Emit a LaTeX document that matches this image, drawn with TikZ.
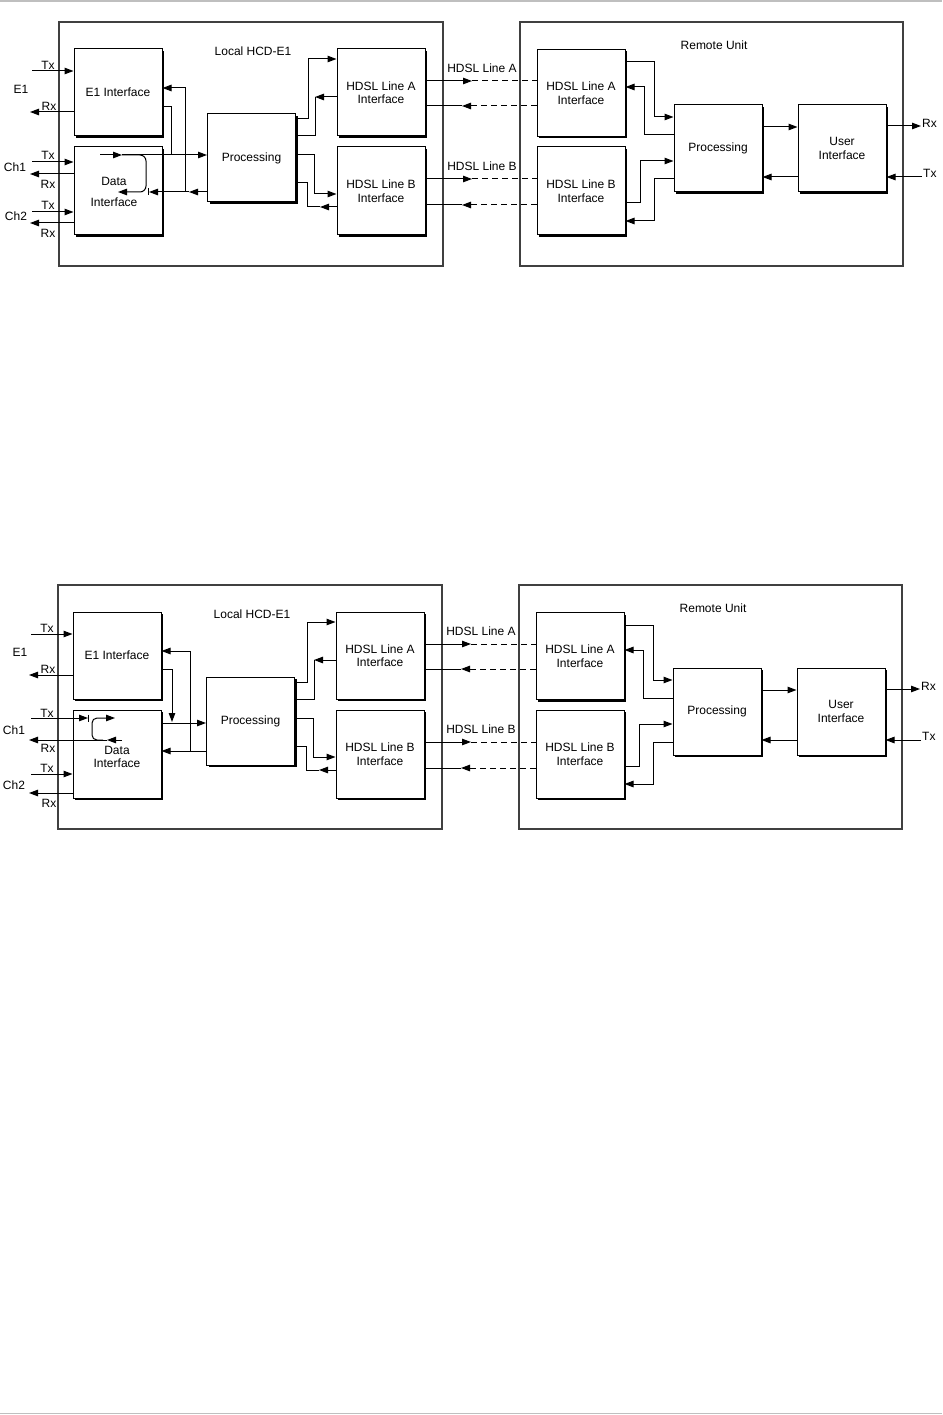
\documentclass[tikz,border=0pt]{standalone}
\usepackage{fontspec}
\setmainfont{Liberation Sans}
\usetikzlibrary{arrows.meta,shadows}
\tikzset{
  txt/.style={font=\fontsize{12}{13.5}\selectfont},
  blk/.style={txt, draw=black, line width=1pt, fill=white, minimum width=88pt,
    minimum height=87pt, inner sep=0pt, align=center,
    drop shadow={shadow xshift=2pt, shadow yshift=-2pt, fill=black, opacity=1}},
  outerbox/.style={draw=black!75, line width=1.1pt},
  lbl/.style={txt, inner sep=0pt},
  wire/.style={line width=1pt},
  arr/.style={wire, -{Triangle[length=9pt,width=6.5pt]}},
  dsh/.style={wire, dash pattern=on 6pt off 4pt},
  rule/.style={draw=black!25},
}
\newcommand\diagcommon[1]{%
  \draw[outerbox] (59,22) rectangle (443,266);
  \draw[outerbox] (520,22) rectangle (903,266);
  \node[lbl] (#1tl) at (253,51) {Local HCD-E1};
  \node[lbl] (#1tr) at (714,45) {Remote Unit};
  \node[blk] (#1e1) at (118,92.5) {E1 Interface};
  \node[blk, minimum height=88pt] (#1di) at (118,191) {};
  \node[blk, minimum height=88pt] (#1pr) at (251.5,158) {Processing};
  \node[blk] (#1ha) at (381,92.5) {HDSL Line A\\Interface};
  \node[blk, minimum height=88pt] (#1hb) at (381,191) {HDSL Line B\\Interface};
  \node[blk] (#1ra) at (581,93) {HDSL Line A\\Interface};
  \node[blk, minimum height=88pt] (#1rb) at (581,191) {HDSL Line B\\Interface};
  \node[blk] (#1rp) at (718,148.5) {Processing};
  \node[blk] (#1ui) at (842,148.5) {User\\Interface};
  % E1 port
  \node[lbl] (#1e1tx) at (48,65) {Tx};
  \node[lbl] (#1e1n) at (21,89) {E1};
  \node[lbl] (#1e1rx) at (49,106) {Rx};
  \coordinate (#1e1in) at (32,71);
  \coordinate (#1e1out) at (30,112);
  \draw[arr] (#1e1in) -- (#1e1.west |- #1e1in);
  \draw[arr] (#1e1.west |- #1e1out) -- (#1e1out);
  % local processing <-> HDSL interfaces
  \draw[arr] (#1pr.east |- 0,119) -- (308,119) -- (308,59) -- (#1ha.west |- 0,59);
  \draw[arr] (#1ha.west |- 0,97) -- (315,97);
  \draw[wire] (315,97) -- (315,136) -- (#1pr.east |- 0,136);
  \draw[arr] (#1pr.east |- 0,155) -- (314,155) -- (314,194) -- (#1hb.west |- 0,194);
  \draw[arr] (#1hb.west |- 0,207) -- (320,207);
  \draw[wire] (320,207) -- (307,207) -- (307,183) -- (#1pr.east |- 0,183);
  % HDSL lines
  \node[lbl] (#1la) at (482,68) {HDSL Line A};
  \node[lbl] (#1lb) at (482,166) {HDSL Line B};
  \coordinate (#1a1) at (472,81);
  \coordinate (#1a2) at (462,106);
  \coordinate (#1b1) at (472,179);
  \coordinate (#1b2) at (462,205);
  \draw[arr] (#1ha.east |- #1a1) -- (#1a1);
  \draw[dsh] (#1a1) -- (#1ra.west |- #1a1);
  \draw[dsh, -{Triangle[length=9pt,width=6.5pt]}] (#1ra.west |- #1a2) -- (#1a2);
  \draw[wire] (#1a2) -- (#1ha.east |- #1a2);
  \draw[arr] (#1hb.east |- #1b1) -- (#1b1);
  \draw[dsh] (#1b1) -- (#1rb.west |- #1b1);
  \draw[dsh, -{Triangle[length=9pt,width=6.5pt]}] (#1rb.west |- #1b2) -- (#1b2);
  \draw[wire] (#1b2) -- (#1hb.east |- #1b2);
  % remote wiring
  \draw[arr] (#1ra.east |- 0,62) -- (654,62) -- (654,117) -- (#1rp.west |- 0,117);
  \draw[arr] (#1rp.west |- 0,135) -- (644,135) -- (644,87) -- (#1ra.east |- 0,87);
  \draw[arr] (#1rb.east |- 0,203) -- (640,203) -- (640,161) -- (#1rp.west |- 0,161);
  \draw[arr] (#1rp.west |- 0,179) -- (654,179) -- (654,221) -- (#1rb.east |- 0,221);
  \draw[arr] (#1rp.east |- 0,127) -- (#1ui.west |- 0,127);
  \draw[arr] (#1ui.west |- 0,177) -- (#1rp.east |- 0,177);
  \coordinate (#1uirx) at (921,126);
  \coordinate (#1uitx) at (922,177);
  \draw[arr] (#1ui.east |- #1uirx) -- (#1uirx);
  \draw[arr] (#1uitx) -- (#1ui.east |- #1uitx);
  \node[lbl, anchor=west] (#1rxl) at (922,123) {Rx};
  \node[lbl, anchor=west] (#1txl) at (923,173) {Tx};
}
\begin{document}
\begin{tikzpicture}[x=1pt,y=-1pt]
\useasboundingbox (0,0) rectangle (942,1415);
\draw[rule, line width=2.5pt] (0,1.2) -- (942,1.2);
\draw[rule, line width=1.5pt] (0,1413.5) -- (942,1413.5);
% ---------------- first diagram ----------------
\begin{scope}
  \diagcommon{p}
  \node[lbl] (pc1tx) at (48,155) {Tx};
  \node[lbl] (pc1n) at (15,167) {Ch1};
  \node[lbl] (pc1rx) at (48,184) {Rx};
  \node[lbl] (pc2tx) at (48,205) {Tx};
  \node[lbl] (pc2n) at (16,216) {Ch2};
  \node[lbl] (pc2rx) at (48,233) {Rx};
  \coordinate (pc1i) at (32,162);
  \coordinate (pc1o) at (30,174);
  \coordinate (pc2i) at (32,212);
  \coordinate (pc2o) at (30,223);
  \draw[arr] (pc1i) -- (pdi.west |- pc1i);
  \draw[arr] (pdi.west |- pc1o) -- (pc1o);
  \draw[arr] (pc2i) -- (pdi.west |- pc2i);
  \draw[arr] (pdi.west |- pc2o) -- (pc2o);
  \node[lbl] (pdat) at (114,181) {Data};
  \node[lbl] (pdif) at (114,202) {Interface};
  \coordinate (pj1) at (122,155);
  \draw[arr] (100,155) -- (pj1);
  \draw[arr] (pj1) -- (ppr.west |- pj1);
  \draw[arr, rounded corners=6pt] (pj1) -- (146,155) -- (146,192) -- (118,192);
  \draw[wire] (pe1.east |- 0,107) -- (171,107) -- (171,155);
  \coordinate (pj2) at (189,192);
  \draw[arr] (ppr.west |- pj2) -- (pj2);
  \draw[arr] (pj2) -- (149,192);
  \draw[wire] (148,188.5) -- (148,195.5);
  \draw[arr] (185,192) -- (185,88) -- (pe1.east |- 0,88);
\end{scope}
% ---------------- second diagram ----------------
\begin{scope}[shift={(-1,563)}]
  \diagcommon{q}
  \node[lbl] (qc1tx) at (48,150) {Tx};
  \node[lbl] (qc1n) at (15,167) {Ch1};
  \node[lbl] (qc1rx) at (49,185) {Rx};
  \node[lbl] (qc2tx) at (48,205) {Tx};
  \node[lbl] (qc2n) at (15,222) {Ch2};
  \node[lbl] (qc2rx) at (50,240) {Rx};
  \coordinate (qc1i) at (32,155);
  \coordinate (qbar) at (89,155);
  \draw[arr] (qc1i) -- (qbar);
  \draw[wire] (89,151.5) -- (89,158.5);
  \draw[arr, rounded corners=5pt] (104,177) -- (93,177) -- (93,155) -- (116,155);
  \coordinate (qr1) at (108,177);
  \draw[arr] (123,177) -- (qr1);
  \draw[arr] (qr1) -- (30,177);
  \coordinate (qc2i) at (32,211);
  \coordinate (qc2o) at (30,230);
  \draw[arr] (qc2i) -- (qdi.west |- qc2i);
  \draw[arr] (qdi.west |- qc2o) -- (qc2o);
  \node[lbl, align=center] (qdat) at (118,194) {Data\\Interface};
  \draw[arr] (qdi.east |- 0,160) -- (qpr.west |- 0,160);
  \draw[arr] (qe1.east |- 0,106) -- (173,106) -- (173,159);
  \draw[arr] (qpr.west |- 0,188) -- (qdi.east |- 0,188);
  \draw[arr] (191,188) -- (191,88) -- (qe1.east |- 0,88);
\end{scope}
\end{tikzpicture}
\end{document}
